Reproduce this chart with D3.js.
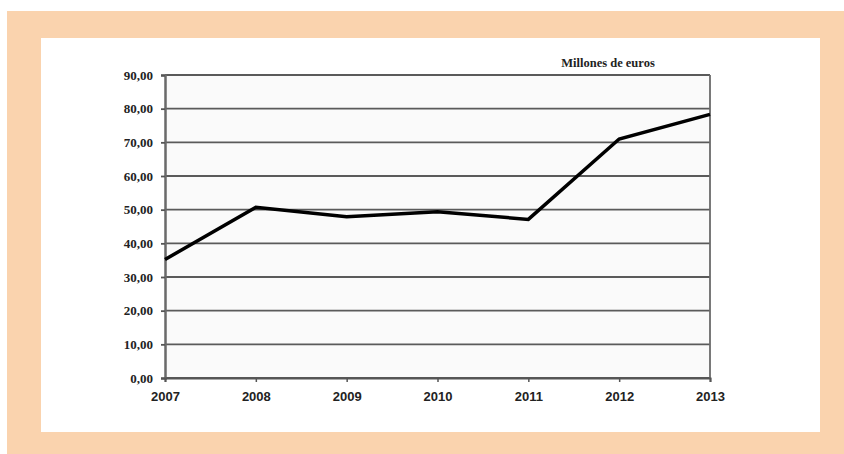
<!DOCTYPE html>
<meta charset="utf-8">
<head>
  <script src="https://cdnjs.cloudflare.com/ajax/libs/d3/7.8.5/d3.min.js"></script>
  <style>
    body { margin: 0; background: #fff; }
    svg { display: block; }
  </style>
</head>
<body>
  <div id="my_dataviz"></div>
  <script>
    // data
    var years = [2007, 2008, 2009, 2010, 2011, 2012, 2013];
    var values = [35.2, 50.7, 47.9, 49.4, 47.1, 71.0, 78.3];
    var yTicks = [0, 10, 20, 30, 40, 50, 60, 70, 80, 90];
    var unitLabel = "Millones de euros";

    var W = 844, H = 454;
    var svg = d3.select("#my_dataviz")
      .append("svg")
      .attr("width", W)
      .attr("height", H);

    // peach frame and white card
    svg.append("rect").attr("x", 7).attr("y", 11).attr("width", W - 7).attr("height", H - 11).attr("fill", "#fad3ae");
    svg.append("rect").attr("x", 41).attr("y", 38).attr("width", 779).attr("height", 394).attr("fill", "#fff");

    var margin = { left: 165, top: 75, right: 710, bottom: 378 };

    var x = d3.scaleLinear()
      .domain([2007, 2013])
      .range([margin.left, margin.right]);

    var y = d3.scaleLinear()
      .domain([0, 90])
      .range([margin.bottom, margin.top]);

    // plot background
    svg.append("rect")
      .attr("x", margin.left).attr("y", margin.top)
      .attr("width", margin.right - margin.left)
      .attr("height", margin.bottom - margin.top)
      .attr("fill", "#fafafa");

    // horizontal grid
    svg.selectAll("gridline")
      .data(yTicks)
      .enter()
      .append("line")
      .attr("x1", margin.left)
      .attr("x2", margin.right)
      .attr("y1", function (d) { return y(d); })
      .attr("y2", function (d) { return y(d); })
      .attr("stroke", "#5a5a5a")
      .attr("stroke-width", 1.8);

    // right border
    svg.append("line")
      .attr("x1", margin.right).attr("x2", margin.right)
      .attr("y1", margin.top).attr("y2", margin.bottom)
      .attr("stroke", "#6a6a6a").attr("stroke-width", 1.8);

    // Y axis
    var yAxis = svg.append("g")
      .attr("transform", "translate(" + margin.left + ",0)")
      .call(d3.axisLeft(y).tickValues(yTicks).tickSize(4).tickPadding(8)
        .tickFormat(function (d) { return d.toFixed(2).replace(".", ","); }));
    yAxis.select(".domain").attr("stroke", "#6a6a6a").attr("stroke-width", 2.5);
    yAxis.selectAll(".tick line").attr("stroke", "#555").attr("stroke-width", 1.8);
    yAxis.selectAll("text")
      .style("font-family", "'Liberation Serif', 'Times New Roman', serif")
      .style("font-weight", "bold")
      .style("font-size", "13px")
      .attr("fill", "#222");

    // X axis
    var xAxis = svg.append("g")
      .attr("transform", "translate(0," + margin.bottom + ")")
      .call(d3.axisBottom(x).tickValues(years).tickSize(4).tickPadding(10)
        .tickFormat(d3.format("d")));
    xAxis.select(".domain").attr("stroke", "#555").attr("stroke-width", 2);
    xAxis.selectAll(".tick line").attr("stroke", "#555").attr("stroke-width", 1.5);
    xAxis.selectAll("text")
      .style("font-family", "'Liberation Sans', Arial, sans-serif")
      .style("font-weight", "bold")
      .style("font-size", "13px")
      .attr("fill", "#222");

    // unit label
    svg.append("text")
      .attr("x", 608)
      .attr("y", 67)
      .attr("text-anchor", "middle")
      .style("font-family", "'Liberation Serif', 'Times New Roman', serif")
      .style("font-weight", "bold")
      .style("font-size", "12.5px")
      .attr("fill", "#222")
      .text(unitLabel);

    // the line
    var line = d3.line()
      .x(function (d, i) { return x(years[i]); })
      .y(function (d) { return y(d); });

    svg.append("path")
      .datum(values)
      .attr("d", line)
      .attr("fill", "none")
      .attr("stroke", "#000")
      .attr("stroke-width", 3.5)
      .attr("stroke-linejoin", "miter");
  </script>
</body>
